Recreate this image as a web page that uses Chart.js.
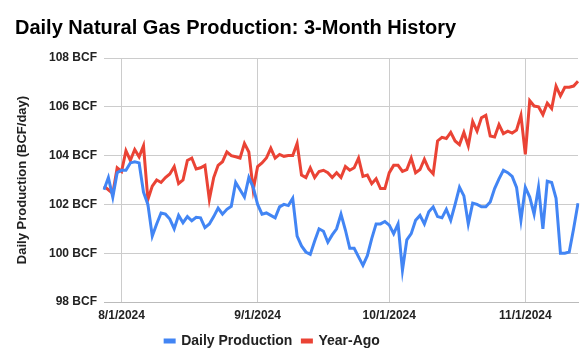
<!DOCTYPE html>
<html>
<head>
<meta charset="utf-8">
<script src="https://cdn.jsdelivr.net/npm/chart.js@4.4.1/dist/chart.umd.min.js"></script>
<style>
  html, body { margin: 0; padding: 0; background: #fff; }
  #wrap { width: 588px; height: 362px; }
</style>
</head>
<body>
<div id="wrap"><canvas id="gas" width="588" height="362"></canvas></div>
<script>
// dates: 7/28/2024 .. 11/13/2024, one per day
var startDay = new Date(2024, 6, 28);
var dayCount = 109;
var dates = [];
for (var i = 0; i < dayCount; i++) {
    var d = new Date(startDay.getFullYear(), startDay.getMonth(), startDay.getDate() + i);
    dates.push((d.getMonth() + 1) + "/" + d.getDate() + "/" + d.getFullYear());
}

// BCF/day
var dailyProduction = [
    102.6, 103.1, 102.3, 103.3, 103.4, 103.4, 103.7, 103.75, 103.7, 102.5,
    102.0, 100.7, 101.2, 101.65, 101.6, 101.4, 101.0, 101.55, 101.25, 101.5,
    101.33, 101.47, 101.45, 101.05, 101.2, 101.5, 101.85, 101.6, 101.8, 101.92,
    102.9, 102.6, 102.3, 103.1, 102.7, 102.0, 101.6, 101.65, 101.55, 101.45,
    101.9, 102.0, 101.95, 102.25, 100.7, 100.3, 100.05, 99.95, 100.5, 101.0,
    100.9, 100.45, 100.75, 101.0, 101.6, 100.95, 100.2, 100.2, 99.85, 99.5,
    99.9, 100.6, 101.2, 101.2, 101.3, 101.15, 100.8, 101.2, 99.3, 100.55,
    100.8, 101.35, 101.55, 101.2, 101.7, 101.9, 101.5, 101.45, 101.8, 101.35,
    102.0, 102.7, 102.35, 101.2, 102.05, 102.0, 101.9, 101.9, 102.1, 102.65,
    103.05, 103.4, 103.3, 103.15, 102.7, 101.35, 102.7, 102.3, 101.6, 102.7,
    101.0, 102.95, 102.9, 102.25, 100.0, 100.0, 100.05, 101.0, 102.05
];

var yearAgo = [
    102.75, 102.6, 102.45, 103.5, 103.35, 104.2, 103.8, 104.25, 103.95, 104.4,
    102.2, 102.75, 103.0, 102.9, 103.1, 103.25, 103.55, 102.85, 103.0, 103.8,
    103.9, 103.45, 103.5, 103.6, 102.2, 103.1, 103.6, 103.75, 104.15, 104.0,
    103.95, 103.9, 104.5, 104.15, 102.6, 103.55, 103.7, 103.9, 104.3, 103.9,
    104.05, 103.97, 104.0, 104.0, 104.5, 103.2, 103.1, 103.5, 103.1, 103.35,
    103.4, 103.3, 103.1, 103.3, 103.1, 103.55, 103.4, 103.5, 103.9, 103.15,
    103.2, 102.85, 103.05, 102.65, 102.65, 103.3, 103.6, 103.6, 103.35, 103.43,
    103.9, 103.3, 103.43, 103.85, 103.45, 103.25, 104.6, 104.75, 104.7, 104.95,
    104.6, 104.45, 104.95, 104.4, 105.4, 105.0, 105.55, 105.65, 104.8, 104.76,
    105.27, 104.9, 105.0, 104.92, 105.05, 105.65, 104.05, 106.25, 106.03, 106.0,
    105.68, 106.15, 105.93, 106.85, 106.45, 106.8, 106.8, 106.85, 107.05
];

var yTicks = [98, 100, 102, 104, 106, 108];

function isMonthStart(idx) {
    return dates[idx] && dates[idx].split("/")[1] === "1";
}

// legend in the original sits a bit left of centre
var legendShift = {
    id: "legendShift",
    afterLayout: function (chart) {
        chart.legend.left -= 24;
        chart.legend.right -= 24;
    }
};

var ctx = document.getElementById("gas").getContext("2d");
var chart = new Chart(ctx, {
    type: "line",
    data: {
        labels: dates,
        datasets: [
            {
                label: "Daily Production",
                data: dailyProduction,
                borderColor: "#4285F4",
                backgroundColor: "#4285F4",
                borderWidth: 3,
                pointRadius: 0,
                tension: 0
            },
            {
                label: "Year-Ago",
                data: yearAgo,
                borderColor: "#EA4335",
                backgroundColor: "#EA4335",
                borderWidth: 3,
                pointRadius: 0,
                tension: 0
            }
        ]
    },
    plugins: [legendShift],
    options: {
        responsive: false,
        animation: false,
        layout: {
            padding: { left: 15, right: 10, top: 0, bottom: 4 }
        },
        plugins: {
            title: {
                display: true,
                text: "Daily Natural Gas Production: 3-Month History",
                align: "start",
                color: "#000",
                font: { family: "Arial, 'Liberation Sans', sans-serif", size: 20, weight: "bold" },
                padding: { top: 16, bottom: 18 }
            },
            legend: {
                position: "bottom",
                labels: {
                    color: "#222",
                    font: { family: "Arial, 'Liberation Sans', sans-serif", size: 14, weight: "bold" },
                    boxWidth: 9,
                    boxHeight: 2,
                    padding: 10
                }
            },
            tooltip: { enabled: false }
        },
        scales: {
            x: {
                offset: false,
                grid: {
                    drawTicks: false,
                    color: function (c) { return isMonthStart(c.index) ? "#cccccc" : "rgba(0,0,0,0)"; }
                },
                border: { display: true, color: "#bbbbbb" },
                ticks: {
                    autoSkip: false,
                    maxRotation: 0,
                    padding: 6,
                    color: "#222",
                    font: { family: "Arial, 'Liberation Sans', sans-serif", size: 12, weight: "bold" },
                    callback: function (v, idx) { return isMonthStart(idx) ? dates[idx] : ""; }
                },
                afterFit: function (s) { s.height = 22; }
            },
            y: {
                min: 98,
                max: 108,
                afterBuildTicks: function (s) { s.ticks = yTicks.map(function (v) { return { value: v }; }); },
                grid: { color: "#cccccc", drawTicks: false },
                border: { display: false },
                ticks: {
                    padding: 7,
                    color: "#222",
                    font: { family: "Arial, 'Liberation Sans', sans-serif", size: 12, weight: "bold" },
                    callback: function (v) { return v + " BCF"; }
                },
                title: {
                    display: true,
                    text: "Daily Production (BCF/day)",
                    color: "#222",
                    font: { family: "Arial, 'Liberation Sans', sans-serif", size: 13, weight: "bold" },
                    padding: { top: 0, bottom: 0 }
                },
                afterFit: function (s) { s.width = 89; }
            }
        }
    }
});
</script>
</body>
</html>
